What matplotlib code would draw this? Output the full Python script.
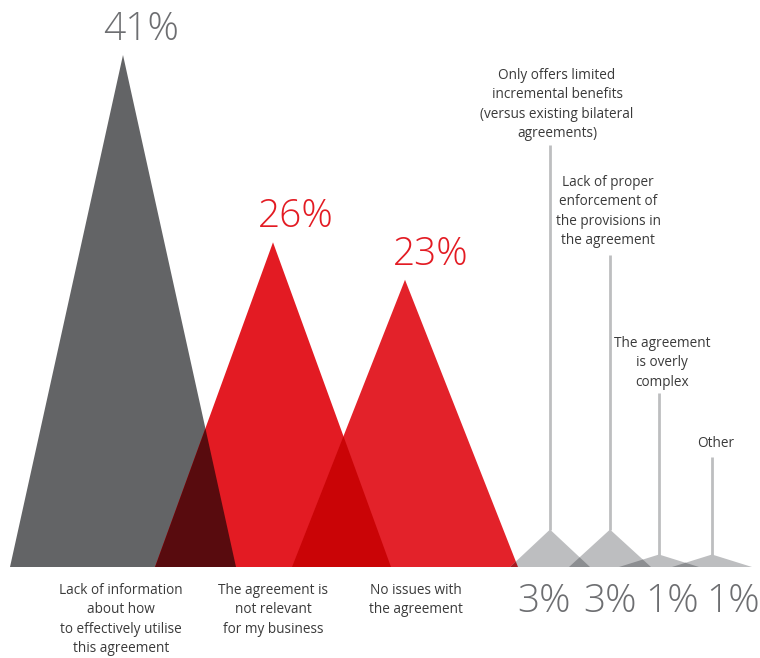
import numpy as np
import matplotlib
matplotlib.use("Agg")
import matplotlib.pyplot as plt
from matplotlib.colors import to_rgb
from matplotlib.patches import Polygon

plt.rcParams["font.family"] = ["Open Sans", "DejaVu Sans"]

# survey answers: share of respondents per reason
reasons = [
    "Lack of information\nabout how\nto effectively utilise\nthis agreement",
    "The agreement is\nnot relevant\nfor my business",
    "No issues with\nthe agreement",
    "Only offers limited\nincremental benefits\n(versus existing bilateral\nagreements)",
    "Lack of proper\nenforcement of\nthe provisions in\nthe agreement",
    "The agreement\nis overly\ncomplex",
    "Other",
]
shares = [41, 26, 23, 3, 3, 1, 1]
share_labels = ["41%", "26%", "23%", "3%", "3%", "1%", "1%"]

# layout (pixels)
centers = [123, 273, 405, 550, 610, 659, 712]
half_w = [113, 118, 113, 40, 41, 40, 40]
colors = ["#636466", "#e31b23", "#e3222a", "#bdbec0", "#bdbec0", "#bdbec0", "#bdbec0"]
label_colors = ["#6d6e71", "#e31b23", "#e31b23", "#6d6e71", "#6d6e71", "#6d6e71", "#6d6e71"]

W, H = 760, 658
BASE = 567          # baseline pixel row
K = 512 / 41        # pixels per percentage point

fig = plt.figure(figsize=(W / 100, H / 100), dpi=100)
ax = fig.add_axes([0, 0, 1, 1])
ax.set_xlim(0, W)
ax.set_ylim(-(H - BASE) / K, BASE / K)
ax.axis("off")


def py(pix):
    # pixel row -> data y
    return (BASE - pix) / K


# triangles
for c, w, v, col in zip(centers, half_w, shares, colors):
    ax.add_patch(Polygon([(c - w, 0), (c, v), (c + w, 0)], closed=True,
                         facecolor=col, edgecolor="none", zorder=2))

# overlaps of neighbouring triangles, coloured as a multiply blend
for i in range(len(shares) - 1):
    c1, w1, h1 = centers[i], half_w[i], shares[i]
    c2, w2, h2 = centers[i + 1], half_w[i + 1], shares[i + 1]
    r1, l2 = c1 + w1, c2 - w2
    if l2 >= r1:
        continue
    s1, s2 = h1 / w1, h2 / w2
    xi = (s1 * r1 + s2 * l2) / (s1 + s2)
    yi = s2 * (xi - l2)
    mix = np.array(to_rgb(colors[i])) * np.array(to_rgb(colors[i + 1]))
    ax.add_patch(Polygon([(l2, 0), (xi, yi), (r1, 0)], closed=True,
                         facecolor=mix, edgecolor="none", zorder=3))

# big value labels above the peaks
big_dx = [18, 23, 26]
for i in range(3):
    ax.text(centers[i] + big_dx[i], shares[i] + 15 / K, share_labels[i],
            ha="center", va="baseline", fontsize=28, fontweight="light",
            color=label_colors[i])

# category labels under the big triangles
bottom_x = [121, 273, 416]
for i in range(3):
    ax.text(bottom_x[i], py(583), reasons[i], ha="center", va="top",
            fontsize=9.8, color="#3a3a3a", linespacing=1.4)

# small value labels along the baseline
small_x = [544, 610, 672, 733]
for j, i in enumerate(range(3, 7)):
    ax.text(small_x[j], py(612), share_labels[i], ha="center", va="baseline",
            fontsize=28, fontweight="light", color=label_colors[i])

# leader lines and labels for the small triangles
line_top = [145, 255, 393, 457]
text_x = [557, 608, 662, 716]
text_top = [68, 175, 336, 436]
for j, i in enumerate(range(3, 7)):
    ax.plot([centers[i], centers[i]], [py(line_top[j]), shares[i]],
            color="#bdbec0", lw=2, solid_capstyle="butt", zorder=1)
    ax.text(text_x[j], py(text_top[j]), reasons[i], ha="center", va="top",
            fontsize=9.8, color="#3a3a3a", linespacing=1.4)

fig.savefig("out.png", dpi=100)
